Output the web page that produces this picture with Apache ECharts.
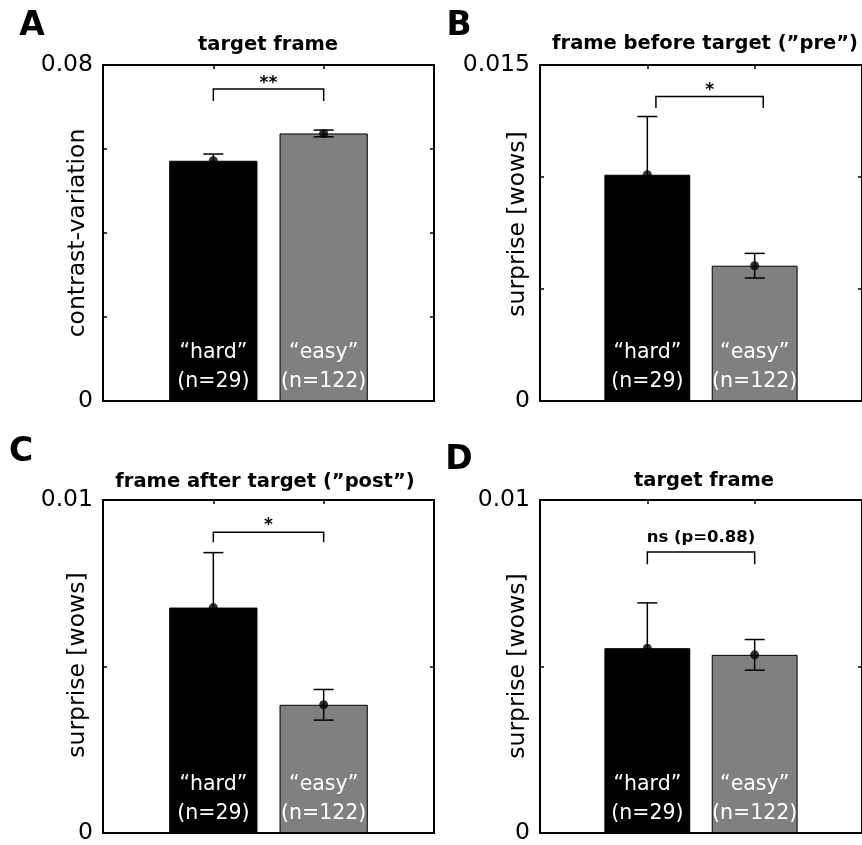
<!DOCTYPE html>
<html><head><meta charset="utf-8">
<script src="https://cdn.jsdelivr.net/npm/echarts@6/dist/echarts.min.js"></script>
<style>html,body{margin:0;padding:0;background:#fff}#c{width:862px;height:845px}</style>
</head><body><div id="c"></div>
<script>
// ---- data ----
const groups = ['“hard”', '“easy”'];
const counts = ['(n=29)', '(n=122)'];
const xPos = [1, 2];
const barColors = ['#000000', '#808080'];
const panelLetters = ['A', 'B', 'C', 'D'];
const panelTitles = ['target frame', 'frame before target (”pre”)', 'frame after target (”post”)', 'target frame'];
const yLabels = ['contrast-variation', 'surprise [wows]', 'surprise [wows]', 'surprise [wows]'];
const yMax = [0.08, 0.015, 0.01, 0.01];
const yStep = [0.02, 0.005, 0.005, 0.005];
const meanA = [0.0572, 0.0637];
const errA = [0.0016, 0.0008];
const meanB = [0.0101, 0.00604];
const errB = [0.0026, 0.00055];
const meanC = [0.00677, 0.00385];
const errC = [0.00165, 0.00046];
const meanD = [0.00555, 0.00535];
const errD = [0.00136, 0.00046];
const sigText = ['**', '*', '*', 'ns (p=0.88)'];
const bracketX = [[1, 2], [1.08, 2.08], [1, 2], [1, 2]];
const bracketY = [[0.0714, 0.0743], [0.01308, 0.01359], [0.00873, 0.00903], [0.00807, 0.00844]];
const sigTextY = [0.0755, 0.01384, 0.00924, 0.00887];

const means = [meanA, meanB, meanC, meanD];
const errs = [errA, errB, errC, errD];

// ---- layout / style ----
const FONT = 'DejaVu Sans';
const grids = [
  {left: 103, top: 65, width: 331, height: 336},
  {left: 540, top: 65, width: 331, height: 336},
  {left: 103, top: 500, width: 331, height: 337},
  {left: 540, top: 500, width: 331, height: 337}
];
const letterPos = [[32, 26], [459, 26], [21, 452], [459, 460]];
const titlePos = [[268, 45], [705, 44], [265, 482], [704, 481]];
const ylabPos = [[78, 233], [518, 224], [78, 665], [518, 666]];

const xAxes = [], yAxes = [], series = [], graphics = [];
for (let i = 0; i < 4; i++) {
  const lineStyle = {color: '#000', width: 2};
  const tickStyle = {color: '#000', width: 1.5};
  xAxes.push({gridIndex: i, type: 'value', min: 0, max: 3, interval: 1, position: 'bottom', z: 5,
    axisLine: {show: true, onZero: false, lineStyle}, axisTick: {show: false}, axisLabel: {show: false}, splitLine: {show: false}});
  xAxes.push({gridIndex: i, type: 'value', min: 0, max: 3, interval: 1, position: 'top', z: 5,
    axisLine: {show: true, onZero: false, lineStyle}, axisTick: {show: true, inside: true, length: 4, lineStyle: tickStyle},
    axisLabel: {show: false}, splitLine: {show: false}});
  const mx = yMax[i];
  yAxes.push({gridIndex: i, type: 'value', min: 0, max: mx, interval: yStep[i], position: 'left', z: 5,
    axisLine: {show: true, onZero: false, lineStyle}, axisTick: {show: true, inside: true, length: 4, lineStyle: tickStyle},
    splitLine: {show: false},
    axisLabel: {show: true, color: '#000', fontFamily: FONT, fontSize: 23.5, margin: 10,
      formatter: v => Math.abs(v) < 1e-12 ? '0' : (Math.abs(v - mx) < 1e-9 ? String(mx) : '')}});
  yAxes.push({gridIndex: i, type: 'value', min: 0, max: mx, interval: yStep[i], position: 'right', z: 5,
    axisLine: {show: true, onZero: false, lineStyle}, axisTick: {show: true, inside: true, length: 4, lineStyle: tickStyle},
    splitLine: {show: false}, axisLabel: {show: false}});

  const xi = 2 * i, yi = 2 * i;
  series.push({
    type: 'bar', xAxisIndex: xi, yAxisIndex: yi, barWidth: '80%', z: 2,
    data: xPos.map((x, j) => ({value: [x, means[i][j]], itemStyle: {color: barColors[j], borderColor: '#000', borderWidth: 1}})),
    label: {show: true, position: 'insideBottom', distance: 5, color: '#fff', fontFamily: FONT, fontSize: 20.5, lineHeight: 29,
      formatter: p => groups[p.dataIndex] + '\n' + counts[p.dataIndex]},
    emphasis: {disabled: true}, animation: false
  });
  series.push({
    type: 'custom', xAxisIndex: xi, yAxisIndex: yi, z: 3, clip: false,
    encode: {x: 0, y: [1, 2]},
    data: xPos.map((x, j) => [x, means[i][j], errs[i][j]]),
    renderItem: (params, api) => {
      const x = api.value(0), m = api.value(1), e = api.value(2);
      const t = api.coord([x, m + e]), b = api.coord([x, m - e]);
      const hw = 10;
      const st = {stroke: '#000', lineWidth: 1.5};
      return {type: 'group', children: [
        {type: 'line', shape: {x1: t[0], y1: t[1], x2: b[0], y2: b[1]}, style: st},
        {type: 'line', shape: {x1: t[0] - hw, y1: t[1], x2: t[0] + hw, y2: t[1]}, style: st},
        {type: 'line', shape: {x1: b[0] - hw, y1: b[1], x2: b[0] + hw, y2: b[1]}, style: st}
      ]};
    },
    animation: false
  });
  series.push({
    type: 'scatter', xAxisIndex: xi, yAxisIndex: yi, z: 4, symbol: 'circle', symbolSize: 9,
    itemStyle: {color: '#000'}, data: xPos.map((x, j) => [x, means[i][j]]), animation: false
  });
  series.push({
    type: 'custom', xAxisIndex: xi, yAxisIndex: yi, z: 4, clip: false,
    encode: {x: [0, 1], y: [2, 3, 4]},
    data: [[bracketX[i][0], bracketX[i][1], bracketY[i][0], bracketY[i][1], sigTextY[i]]],
    renderItem: (params, api) => {
      const x1 = api.value(0), x2 = api.value(1), y0 = api.value(2), y1 = api.value(3), ty = api.value(4);
      const p1 = api.coord([x1, y0]), p2 = api.coord([x1, y1]), p3 = api.coord([x2, y1]), p4 = api.coord([x2, y0]);
      const tp = api.coord([(x1 + x2) / 2, ty]);
      return {type: 'group', children: [
        {type: 'polyline', shape: {points: [p1, p2, p3, p4]}, style: {stroke: '#000', lineWidth: 1.5, fill: null}},
        {type: 'text', x: tp[0], y: tp[1], style: {text: sigText[i], fill: '#000', fontFamily: FONT, fontWeight: 'bold',
          fontSize: i === 3 ? 16.5 : 17, align: 'center', verticalAlign: 'middle'}}
      ]};
    },
    animation: false
  });

  graphics.push({type: 'text', x: letterPos[i][0], y: letterPos[i][1],
    style: {text: panelLetters[i], fill: '#000', fontFamily: FONT, fontWeight: 'bold', fontSize: 33, align: 'center', verticalAlign: 'middle'}});
  graphics.push({type: 'text', x: titlePos[i][0], y: titlePos[i][1],
    style: {text: panelTitles[i], fill: '#000', fontFamily: FONT, fontWeight: 'bold', fontSize: 19.5, align: 'center', verticalAlign: 'middle'}});
  graphics.push({type: 'text', x: ylabPos[i][0], y: ylabPos[i][1], rotation: Math.PI / 2,
    style: {text: yLabels[i], fill: '#000', fontFamily: FONT, fontSize: 23.5, align: 'center', verticalAlign: 'middle'}});
}

const chart = echarts.init(document.getElementById('c'), null, {renderer: 'canvas'});
chart.setOption({
  animation: false,
  backgroundColor: '#fff',
  grid: grids,
  xAxis: xAxes,
  yAxis: yAxes,
  series: series,
  graphic: graphics
});
</script>
</body></html>
